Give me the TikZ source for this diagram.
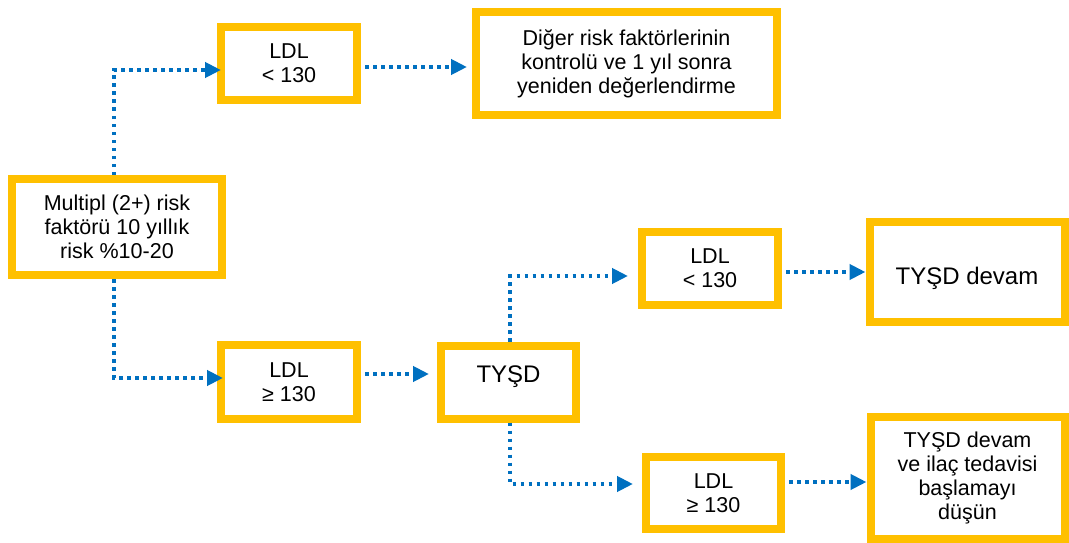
\documentclass[tikz,border=0pt]{standalone}
\usepackage{fontspec}
\setmainfont{Liberation Sans}
\usetikzlibrary{arrows.meta}
\definecolor{boxyellow}{HTML}{FFC000}
\definecolor{flowblue}{HTML}{0070C0}
\tikzset{
  box/.style={draw=boxyellow, line width=8pt, fill=white, rectangle,
    inner sep=0pt, align=center, text=black},
  flow/.style={draw=flowblue, line width=4pt, dash pattern=on 3.5pt off 4.5pt,
    -{Triangle[length=16pt,width=15pt,fill=flowblue]}},
  fs/.style 2 args={font=\fontsize{#1}{#2}\selectfont},
  small/.style={fs={21.5}{24}},
  large/.style={fs={24}{28}}
}
% shift a line of text up or down without changing its box
\newcommand{\shiftline}[2]{\raisebox{#1}[\height][\depth]{#2}}
\begin{document}
\begin{tikzpicture}[x=1pt,y=-1pt]
\useasboundingbox (0,0) rectangle (1069,543);

% boxes
\node[box, small, minimum width=210pt, minimum height=96pt] (A) at (117,227)
  {Multipl (2+) risk\\faktörü 10 yıllık\\risk \%10-20};
\node[box, small, minimum width=136pt, minimum height=73pt] (B) at (289,63.5)
  {LDL\\< 130};
\node[box, small, minimum width=301pt, minimum height=103pt] (C) at (626.5,63.5)
  {Diğer risk faktörlerinin\\kontrolü ve 1 yıl sonra\\yeniden değerlendirme};
\node[box, small, minimum width=136pt, minimum height=74pt] (D) at (289,382)
  {LDL\\≥ 130};
\node[box, large, minimum width=135pt, minimum height=73pt] (E) at (508.5,382)
  {\shiftline{5pt}{TYŞD}};
\node[box, small, minimum width=136pt, minimum height=73pt] (F) at (710,268.5)
  {LDL\\< 130};
\node[box, large, minimum width=195pt, minimum height=100pt] (G) at (967,272)
  {\shiftline{-6pt}{TYŞD devam}};
\node[box, small, minimum width=135pt, minimum height=72pt] (I) at (713.5,493)
  {LDL\\≥ 130};
\node[box, small, minimum width=194pt, minimum height=122pt] (H) at (967.5,478)
  {TYŞD devam\\ve ilaç tedavisi\\başlamayı\\düşün};

% connectors
\draw[flow] ([xshift=-3pt]A.north) |- ([xshift=4pt,yshift=-6.5pt]B.west);
\draw[flow] ([xshift=4pt,yshift=-3.5pt]B.east) -- ([xshift=-5pt,yshift=-3.5pt]C.west);
\draw[flow] ([xshift=-3pt]A.south) |- ([xshift=6pt,yshift=4pt]D.west);
\draw[flow] ([xshift=4pt,yshift=8pt]D.east) -- ([xshift=-8pt,yshift=8pt]E.west);
\draw[flow] ([xshift=1.5pt]E.north) |- ([xshift=-10pt,yshift=-7.5pt]F.west);
\draw[flow] ([xshift=1.5pt]E.south) |- ([xshift=-9pt,yshift=9pt]I.west);
\draw[flow] ([xshift=4pt,yshift=-3.5pt]F.east) -- (G.west);
\draw[flow] ([xshift=4pt,yshift=11pt]I.east) -- ([yshift=-4pt]H.west);
\end{tikzpicture}
\end{document}
